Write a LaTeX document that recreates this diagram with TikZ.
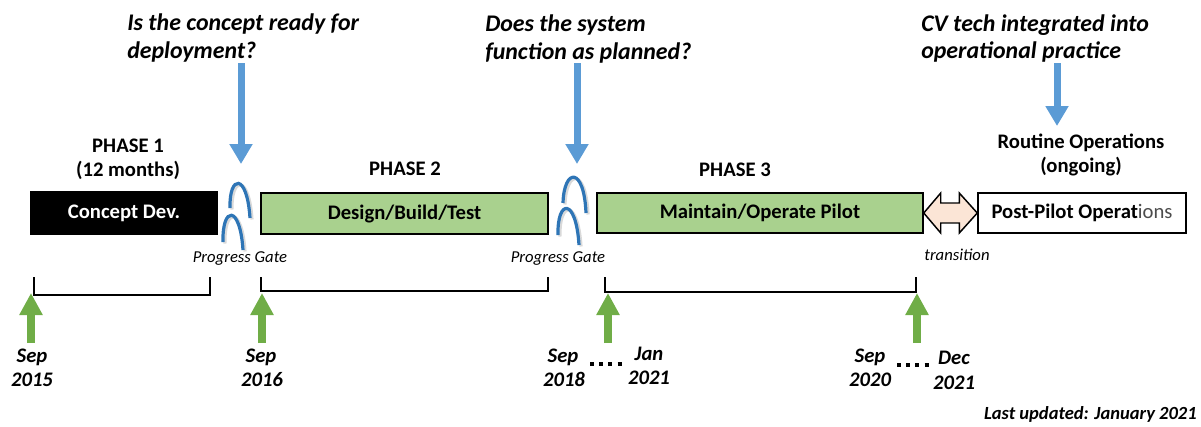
\documentclass[tikz,border=0pt]{standalone}
\usepackage{fontspec}
\setmainfont{Carlito}
\usetikzlibrary{arrows.meta,calc}
\definecolor{boxgreen}{HTML}{A9D18E}
\definecolor{arrgreen}{HTML}{70AD47}
\definecolor{arrblue}{HTML}{5B9BD5}
\definecolor{gateblue}{HTML}{2E75B6}
\definecolor{peach}{HTML}{FBE5D6}
\begin{document}
\begin{tikzpicture}[x=0.75pt,y=-0.75pt,
  phasebox/.style={draw=black, line width=1.1pt, inner sep=0pt,
    font=\fontsize{15.5}{18}\selectfont\bfseries},
  question/.style={anchor=base west, inner sep=0pt,
    font=\fontsize{17.9}{21}\selectfont\bfseries\itshape},
  label/.style={anchor=base, inner sep=0pt,
    font=\fontsize{15.5}{18}\selectfont\bfseries},
  gatelabel/.style={anchor=base, inner sep=0pt,
    font=\fontsize{12.5}{15}\selectfont\itshape},
  datelabel/.style={anchor=base, inner sep=0pt,
    font=\fontsize{15.5}{18}\selectfont\bfseries\itshape},
  bluearrow/.style={draw=arrblue, line width=5.25pt,
    -{Triangle[width=16.5pt,length=15pt]}},
  greenarrow/.style={draw=arrgreen, line width=6pt,
    -{Triangle[width=16.5pt,length=16.5pt]}},
  bracket/.style={draw=black, line width=1.6pt},
  gatearc/.style={draw=gateblue, line width=2.4pt},
  gateshadow/.style={draw=black, line width=2.4pt, opacity=0.15},
  dots/.style={draw=black, line width=3pt, dash pattern=on 3pt off 3.9pt}
]
\useasboundingbox (0,0) rectangle (1201,426);

% questions at the top
\node[question] (q1a) at (127,30) {Is the concept ready for};
\node[question] (q1b) at (127,58) {deployment?};
\node[question] (q2a) at (485,31) {Does the system};
\node[question] (q2b) at (485,59) {function as planned?};
\node[question] (q3a) at (921,31) {CV tech integrated into};
\node[question] (q3b) at (921,58) {operational practice};

% phase headings
\node[label] (ph1) at (128,152) {PHASE 1};
\node[label] (ph1m) at (128,176) {(12 months)};
\node[label] (ph2) at (405,175) {PHASE 2};
\node[label] (ph3) at (735,176) {PHASE 3};
\node[label] (rout) at (1081,148) {Routine Operations};
\node[label] (routg) at (1081,172) {(ongoing)};

% phase boxes
\node[phasebox, fill=black, text=white, minimum width=186*0.75pt,
  minimum height=42*0.75pt] (cdev) at (124,213) {Concept Dev.};
\node[phasebox, fill=boxgreen, minimum width=287*0.75pt,
  minimum height=41*0.75pt] (dbt) at (404.5,213.5) {Design/Build/Test};
\node[phasebox, fill=boxgreen, minimum width=326*0.75pt,
  minimum height=40*0.75pt] (mop) at (760,213) {Maintain/Operate Pilot};
\node[phasebox, fill=white, minimum width=208*0.75pt,
  minimum height=40*0.75pt] (ppo) at (1082,213)
  {Post-Pilot Operat\textcolor{black!70}{\mdseries ions}};

% transition double arrow between the pilot and post-pilot boxes
\draw[draw=black, line width=1.1pt, fill=peach, line join=miter]
  (mop.east) -- ($(mop.east)+(17,-20)$) -- ($(mop.east)+(17,-10)$)
  -- ($(ppo.west)+(-18,-10)$) -- ($(ppo.west)+(-18,-20)$)
  -- (ppo.west) -- ($(ppo.west)+(-18,20)$) -- ($(ppo.west)+(-18,10)$)
  -- ($(mop.east)+(17,10)$) -- ($(mop.east)+(17,20)$) -- cycle;

% progress gates
\coordinate (gate1) at (241,164);
\coordinate (gate2) at (577,164);
\foreach \dx/\dy/\st in {2/1.5/gateshadow, 0/0/gatearc} {
  \begin{scope}[shift={(\dx,\dy)}]
    \draw[\st] (230,208) .. controls (229,175) and (247,172) .. (250,218);
    \draw[\st] (223,242) .. controls (222,206) and (240,204) .. (243,250);
    \draw[\st] (563,203) .. controls (564,168) and (584,166) .. (586,213);
    \draw[\st] (558,235) .. controls (557,199) and (576,197) .. (579,245);
  \end{scope}
}
\node[gatelabel] (pg1) at (240,262) {Progress Gate};
\node[gatelabel] (pg2) at (558,262) {Progress Gate};
\node[gatelabel] (trans) at (957,260) {transition};

% blue arrows from the questions
\coordinate (b1) at (241,63);
\coordinate (b2) at (577,63);
\coordinate (b3) at (1057,63);
\coordinate (rtop) at (1057,126);
\draw[bluearrow] (b1) -- (gate1);
\draw[bluearrow] (b2) -- (gate2);
\draw[bluearrow] (b3) -- (rtop);

% duration brackets
\draw[bracket] (34,277) -- (34,295) -- (210,295) -- (210,277);
\draw[bracket] (261,277) -- (261,291) -- (548,291) -- (548,277);
\draw[bracket] (605,277) -- (605,292) -- (916,292) -- (916,277);

% milestone arrows
\coordinate (m1) at (31,343);  \coordinate (t1) at (31,293);
\coordinate (m2) at (262,343); \coordinate (t2) at (262,293);
\coordinate (m3) at (608,343); \coordinate (t3) at (608,293);
\coordinate (m4) at (917,343); \coordinate (t4) at (917,293);
\draw[greenarrow] (m1) -- (t1);
\draw[greenarrow] (m2) -- (t2);
\draw[greenarrow] (m3) -- (t3);
\draw[greenarrow] (m4) -- (t4);

% dates
\node[datelabel] (d1a) at (32,362) {Sep};
\node[datelabel] (d1b) at (32,386) {2015};
\node[datelabel] (d2a) at (261,362) {Sep};
\node[datelabel] (d2b) at (262,386) {2016};
\node[datelabel] (d3a) at (563,362) {Sep};
\node[datelabel] (d3b) at (564,386) {2018};
\node[datelabel] (d4a) at (649,360) {Jan};
\node[datelabel] (d4b) at (649,384) {2021};
\node[datelabel] (d5a) at (870,362) {Sep};
\node[datelabel] (d5b) at (870,386) {2020};
\node[datelabel] (d6a) at (954,364) {Dec};
\node[datelabel] (d6b) at (954,389) {2021};
\coordinate (dots1a) at (590,364); \coordinate (dots1b) at (623,364);
\coordinate (dots2a) at (897,365); \coordinate (dots2b) at (930,365);
\draw[dots] (dots1a) -- (dots1b);
\draw[dots] (dots2a) -- (dots2b);

\node[anchor=base east, inner sep=0pt,
  font=\fontsize{13.9}{16}\selectfont\bfseries\itshape] (upd) at (1197,419)
  {Last updated: January 2021};
\end{tikzpicture}
\end{document}
